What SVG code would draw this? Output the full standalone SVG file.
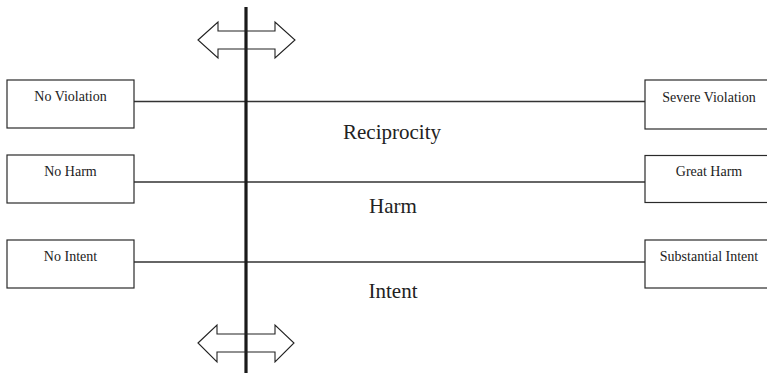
<svg xmlns="http://www.w3.org/2000/svg" width="767" height="373" viewBox="0 0 767 373">
  <style>
    .box { fill: #ffffff; stroke: #2a2a2a; stroke-width: 1.2; }
    .lbl { font-family: "Liberation Serif", "Times New Roman", serif; font-size: 14px; fill: #222; text-anchor: middle; }
    .dim { font-family: "Liberation Serif", "Times New Roman", serif; font-size: 21px; fill: #222; text-anchor: middle; }
    .link { stroke: #333; stroke-width: 1.4; fill: none; }
    .axis { stroke: #1a1a1a; stroke-width: 3.2; fill: none; }
    .dbl { fill: none; stroke: #222; stroke-width: 1.1; stroke-linejoin: miter; }
  </style>
  <rect width="767" height="373" fill="#ffffff"/>

  <!-- horizontal scales between the two extremes -->
  <g id="connectors">
    <line class="link" x1="134" y1="101.5" x2="645" y2="101.5"/>
    <line class="link" x1="134" y1="182" x2="645" y2="182"/>
    <line class="link" x1="134" y1="262" x2="645" y2="262"/>
  </g>

  <!-- central vertical axis with double-headed arrows -->
  <g id="axis">
    <line class="axis" x1="246" y1="7" x2="246" y2="373"/>
    <polygon class="dbl" points="198,40 218,22 218,31 275,31 275,22 295,40 275,58 275,49 218,49 218,58"/>
    <polygon class="dbl" points="198,343 217,325 217,334 275,334 275,325 294,343 275,362 275,352 217,352 217,362"/>
  </g>

  <!-- left extremes -->
  <g id="no-violation">
    <rect class="box" x="7" y="80" width="127" height="48"/>
    <text class="lbl" x="70.5" y="101">No Violation</text>
  </g>
  <g id="no-harm">
    <rect class="box" x="7" y="155" width="127" height="48"/>
    <text class="lbl" x="70.5" y="176">No Harm</text>
  </g>
  <g id="no-intent">
    <rect class="box" x="7" y="240" width="127" height="48"/>
    <text class="lbl" x="70.5" y="261">No Intent</text>
  </g>

  <!-- right extremes -->
  <g id="severe-violation">
    <rect class="box" x="645" y="80" width="130" height="49"/>
    <text class="lbl" x="709" y="101.5">Severe Violation</text>
  </g>
  <g id="great-harm">
    <rect class="box" x="645" y="155.5" width="130" height="47"/>
    <text class="lbl" x="709" y="176">Great Harm</text>
  </g>
  <g id="substantial-intent">
    <rect class="box" x="645" y="240" width="130" height="48"/>
    <text class="lbl" x="709" y="261">Substantial Intent</text>
  </g>

  <!-- dimension names -->
  <g id="dimensions">
    <text class="dim" x="392" y="139">Reciprocity</text>
    <text class="dim" x="393" y="213">Harm</text>
    <text class="dim" x="393" y="298">Intent</text>
  </g>
</svg>
